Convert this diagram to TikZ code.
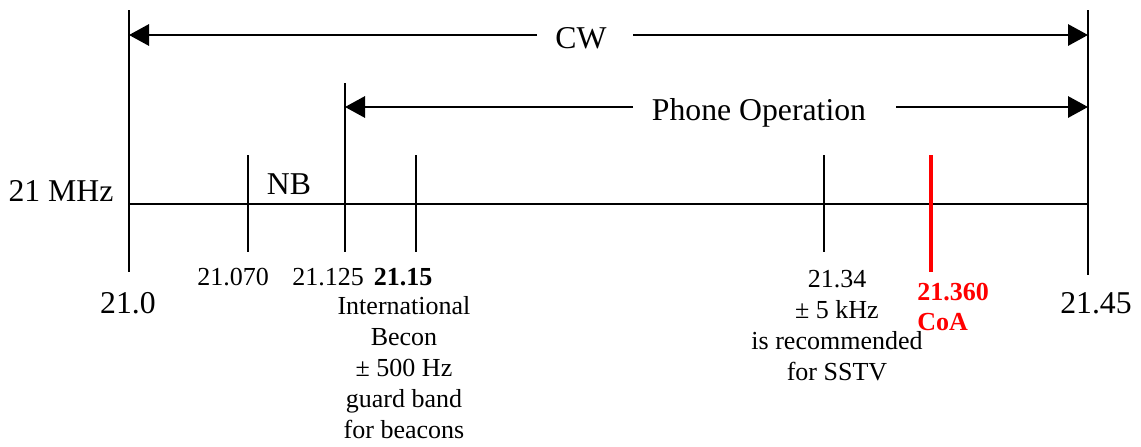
\documentclass[tikz,border=0pt]{standalone}
\usepackage{fontspec}
\setmainfont{Liberation Serif}
\usetikzlibrary{arrows.meta}
\begin{document}
\begin{tikzpicture}[x=0.75pt,y=-0.75pt,
  axisline/.style={line width=1.5pt},
  redline/.style={line width=3pt, draw=red},
  arr/.style={line width=1.5pt,-{Triangle[length=15pt,width=16pt]}},
  big/.style={font=\fontsize{23.8}{28}\selectfont, inner sep=0pt, anchor=base},
  small/.style={font=\fontsize{19.5}{23.2}\selectfont, inner sep=0pt, anchor=base, align=center},
  redtxt/.style={font=\fontsize{19.5}{22.5}\selectfont\bfseries, text=red, inner sep=0pt, anchor=base west, align=left}]
\useasboundingbox (0,0) rectangle (1141,446);
% coordinates
\coordinate (L0) at (129,10);
\coordinate (L1) at (129,272);
\coordinate (R0) at (1088,10);
\coordinate (R1) at (1088,275);
\coordinate (axL) at (129,204);
\coordinate (axR) at (1088,204);
\coordinate (p0) at (345,83);
\coordinate (p1) at (345,252);
\coordinate (nb0) at (248,155);
\coordinate (nb1) at (248,252);
\coordinate (bc0) at (416,155);
\coordinate (bc1) at (416,252);
\coordinate (ss0) at (824,155);
\coordinate (ss1) at (824,252);
\coordinate (co0) at (931,155);
\coordinate (co1) at (931,272);
\coordinate (cwL) at (129,35);
\coordinate (cwR) at (1088,35);
\coordinate (cwa) at (537,35);
\coordinate (cwb) at (633,35);
\coordinate (phL) at (345,107);
\coordinate (phR) at (1088,107);
\coordinate (pha) at (633,107);
\coordinate (phb) at (896,107);
% lines
\draw[axisline] (L0) -- (L1);
\draw[axisline] (R0) -- (R1);
\draw[axisline] (axL) -- (axR);
\draw[axisline] (p0) -- (p1);
\draw[axisline] (nb0) -- (nb1);
\draw[axisline] (bc0) -- (bc1);
\draw[axisline] (ss0) -- (ss1);
\draw[redline] (co0) -- (co1);
\draw[arr] (cwa) -- (cwL);
\draw[arr] (cwb) -- (cwR);
\draw[arr] (pha) -- (phL);
\draw[arr] (phb) -- (phR);
% labels
\node[big] (cw) at (581,48) {CW};
\node[big] (phone) at (759,120) {Phone Operation};
\node[big] (mhz) at (61,201) {21 MHz};
\node[big] (nb) at (289,194) {NB};
\node[big] (f210) at (128,313) {21.0};
\node[big] (f2145) at (1096,313) {21.45};
\node[small] (f21070) at (233,285) {21.070};
\node[small] (f21125) at (328,285) {21.125};
\node[small] (f2115) at (403,285) {\textbf{21.15}};
\node[small] (beacon) at (404,438) {International\\Becon\\± 500 Hz\\guard band\\for beacons};
\node[small] (sstv) at (837,380) {21.34\\± 5 kHz\\is recommended\\for SSTV};
\node[redtxt] (coa) at (917,330) {21.360\\CoA};
\end{tikzpicture}
\end{document}
